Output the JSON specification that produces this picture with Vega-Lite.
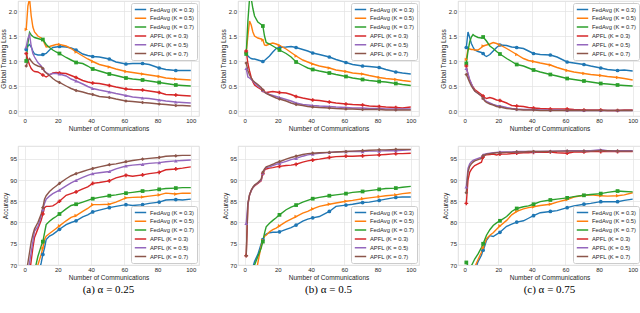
{
"$schema": "https://vega.github.io/schema/vega-lite/v6.json",
"padding": {"left": 0, "top": 0, "right": 0, "bottom": 0},
"config": {
 "font": "Liberation Sans",
 "view": {"stroke": "#d6d6d6", "strokeWidth": 0.8},
 "axis": {"labelFont": "Liberation Sans", "labelFontSize": 6, "labelColor": "#262626", "titleFont": "Liberation Sans", "titleFontSize": 6.5, "titleFontWeight": "normal", "titleColor": "#262626", "ticks": false, "domain": false, "gridColor": "#e3e3e3", "gridWidth": 0.7, "labelPadding": 1.5, "titlePadding": 1.5},
 "legend": {"fillColor": "white", "strokeColor": "#cccccc", "padding": 3, "labelFontSize": 5.8, "labelFont": "Liberation Sans", "labelColor": "#262626", "symbolType": "stroke", "symbolStrokeWidth": 1.5, "symbolSize": 130, "clipHeight": 7, "rowPadding": 1.8, "cornerRadius": 2, "offset": 2, "labelLimit": 200, "labelOffset": 3},
 "title": {"font": "Liberation Serif", "fontWeight": "normal", "color": "#000000"}
},
"title": {"text": "Figure 3. Evaluating the effect of sampling on APFL and FedAvg algorithm using the MNIST dataset that is", "orient": "bottom", "anchor": "middle", "fontSize": 12.5, "offset": 27},
"datasets": {
 "A": [
{"x":1,"a":1.23,"b":1.63,"c":1.0,"d":1.15,"e":1.28,"f":0.9},
{"x":2,"a":1.3,"b":2.1,"c":1.35,"d":1.02,"e":1.45,"f":1.0},
{"x":3,"a":1.33,"b":2.25,"c":1.57,"d":0.92,"e":1.53,"f":1.05},
{"x":4,"a":1.28,"b":1.9,"c":1.52,"d":0.85,"e":1.3,"f":1.0},
{"x":5,"a":1.2,"b":1.68,"c":1.49,"d":0.81,"e":1.15,"f":0.96},
{"x":6,"a":1.14,"b":1.58,"c":1.47,"d":0.79,"e":1.08,"f":0.93},
{"x":8,"a":1.12,"b":1.5,"c":1.45,"d":0.78,"e":0.97,"f":0.9},
{"x":10,"a":1.12,"b":1.46,"c":1.43,"d":0.74,"e":0.9,"f":0.88},
{"x":11,"a":1.13,"b":1.43,"c":1.43,"d":0.72,"e":0.85,"f":0.85},
{"x":12,"a":1.14,"b":1.35,"c":1.38,"d":0.7,"e":0.8,"f":0.79},
{"x":13,"a":1.15,"b":1.28,"c":1.33,"d":0.68,"e":0.77,"f":0.76},
{"x":15,"a":1.22,"b":1.29,"c":1.27,"d":0.72,"e":0.73,"f":0.71},
{"x":17,"a":1.27,"b":1.31,"c":1.22,"d":0.76,"e":0.75,"f":0.65},
{"x":19,"a":1.28,"b":1.33,"c":1.18,"d":0.77,"e":0.75,"f":0.6},
{"x":21,"a":1.29,"b":1.33,"c":1.15,"d":0.76,"e":0.74,"f":0.57},
{"x":25,"a":1.28,"b":1.3,"c":1.07,"d":0.75,"e":0.7,"f":0.5},
{"x":28,"a":1.26,"b":1.25,"c":1.02,"d":0.71,"e":0.64,"f":0.45},
{"x":31,"a":1.22,"b":1.18,"c":0.97,"d":0.67,"e":0.6,"f":0.41},
{"x":35,"a":1.14,"b":1.1,"c":0.95,"d":0.61,"e":0.54,"f":0.38},
{"x":38,"a":1.11,"b":1.04,"c":0.9,"d":0.58,"e":0.49,"f":0.35},
{"x":41,"a":1.09,"b":0.99,"c":0.84,"d":0.56,"e":0.45,"f":0.33},
{"x":45,"a":1.08,"b":0.93,"c":0.8,"d":0.55,"e":0.42,"f":0.29},
{"x":51,"a":1.04,"b":0.88,"c":0.74,"d":0.51,"e":0.38,"f":0.27},
{"x":55,"a":0.98,"b":0.84,"c":0.71,"d":0.48,"e":0.35,"f":0.24},
{"x":61,"a":0.94,"b":0.79,"c":0.66,"d":0.44,"e":0.31,"f":0.2},
{"x":65,"a":0.95,"b":0.77,"c":0.64,"d":0.43,"e":0.28,"f":0.19},
{"x":71,"a":0.95,"b":0.74,"c":0.62,"d":0.42,"e":0.26,"f":0.17},
{"x":75,"a":0.93,"b":0.72,"c":0.6,"d":0.4,"e":0.25,"f":0.16},
{"x":81,"a":0.86,"b":0.69,"c":0.57,"d":0.37,"e":0.22,"f":0.14},
{"x":85,"a":0.83,"b":0.66,"c":0.55,"d":0.33,"e":0.2,"f":0.13},
{"x":91,"a":0.81,"b":0.64,"c":0.52,"d":0.32,"e":0.18,"f":0.11},
{"x":95,"a":0.81,"b":0.63,"c":0.51,"d":0.31,"e":0.17,"f":0.11},
{"x":100,"a":0.81,"b":0.62,"c":0.5,"d":0.3,"e":0.16,"f":0.1}
 ],
 "B": [
{"x":1,"a":1.17,"b":1.17,"c":1.14,"d":1.2,"e":0.85,"f":0.96},
{"x":2,"a":1.1,"b":1.5,"c":1.8,"d":0.95,"e":0.68,"f":0.81},
{"x":3,"a":1.07,"b":1.8,"c":2.25,"d":0.8,"e":0.66,"f":0.72},
{"x":4,"a":1.05,"b":1.72,"c":2.25,"d":0.67,"e":0.63,"f":0.66},
{"x":5,"a":1.04,"b":1.58,"c":2.05,"d":0.58,"e":0.6,"f":0.61},
{"x":6,"a":1.04,"b":1.5,"c":1.9,"d":0.52,"e":0.56,"f":0.58},
{"x":8,"a":1.02,"b":1.46,"c":1.78,"d":0.47,"e":0.5,"f":0.53},
{"x":10,"a":1.0,"b":1.44,"c":1.73,"d":0.43,"e":0.45,"f":0.47},
{"x":11,"a":0.99,"b":1.42,"c":1.7,"d":0.41,"e":0.41,"f":0.42},
{"x":12,"a":1.01,"b":1.32,"c":1.5,"d":0.38,"e":0.37,"f":0.38},
{"x":13,"a":1.04,"b":1.31,"c":1.37,"d":0.37,"e":0.36,"f":0.35},
{"x":15,"a":1.1,"b":1.34,"c":1.34,"d":0.38,"e":0.33,"f":0.32},
{"x":17,"a":1.18,"b":1.36,"c":1.3,"d":0.39,"e":0.31,"f":0.29},
{"x":19,"a":1.25,"b":1.34,"c":1.26,"d":0.38,"e":0.29,"f":0.26},
{"x":21,"a":1.27,"b":1.31,"c":1.22,"d":0.37,"e":0.27,"f":0.24},
{"x":25,"a":1.28,"b":1.24,"c":1.15,"d":0.36,"e":0.23,"f":0.2},
{"x":28,"a":1.29,"b":1.17,"c":1.08,"d":0.33,"e":0.2,"f":0.16},
{"x":31,"a":1.27,"b":1.1,"c":0.98,"d":0.29,"e":0.16,"f":0.13},
{"x":35,"a":1.23,"b":1.02,"c":0.91,"d":0.26,"e":0.13,"f":0.11},
{"x":38,"a":1.2,"b":0.98,"c":0.86,"d":0.24,"e":0.12,"f":0.09},
{"x":41,"a":1.16,"b":0.94,"c":0.83,"d":0.22,"e":0.11,"f":0.08},
{"x":45,"a":1.13,"b":0.9,"c":0.8,"d":0.21,"e":0.1,"f":0.07},
{"x":51,"a":1.08,"b":0.86,"c":0.76,"d":0.18,"e":0.09,"f":0.06},
{"x":55,"a":1.03,"b":0.82,"c":0.73,"d":0.16,"e":0.08,"f":0.05},
{"x":61,"a":0.97,"b":0.79,"c":0.69,"d":0.14,"e":0.07,"f":0.04},
{"x":65,"a":0.93,"b":0.76,"c":0.66,"d":0.13,"e":0.06,"f":0.04},
{"x":71,"a":0.9,"b":0.74,"c":0.63,"d":0.12,"e":0.06,"f":0.03},
{"x":75,"a":0.89,"b":0.71,"c":0.61,"d":0.1,"e":0.05,"f":0.03},
{"x":81,"a":0.87,"b":0.67,"c":0.59,"d":0.09,"e":0.05,"f":0.03},
{"x":85,"a":0.83,"b":0.65,"c":0.58,"d":0.08,"e":0.04,"f":0.02},
{"x":91,"a":0.78,"b":0.63,"c":0.55,"d":0.07,"e":0.04,"f":0.02},
{"x":95,"a":0.76,"b":0.61,"c":0.53,"d":0.06,"e":0.04,"f":0.02},
{"x":100,"a":0.74,"b":0.59,"c":0.51,"d":0.08,"e":0.04,"f":0.02}
 ],
 "C": [
{"x":1,"a":1.27,"b":1.03,"c":0.95,"d":0.9,"e":0.85,"f":0.73},
{"x":2,"a":1.58,"b":1.25,"c":1.2,"d":0.72,"e":0.75,"f":0.65},
{"x":3,"a":1.47,"b":1.24,"c":1.38,"d":0.62,"e":0.63,"f":0.57},
{"x":4,"a":1.35,"b":1.23,"c":1.48,"d":0.54,"e":0.55,"f":0.5},
{"x":5,"a":1.28,"b":1.23,"c":1.53,"d":0.48,"e":0.47,"f":0.45},
{"x":6,"a":1.22,"b":1.22,"c":1.5,"d":0.43,"e":0.4,"f":0.4},
{"x":8,"a":1.19,"b":1.22,"c":1.47,"d":0.38,"e":0.35,"f":0.35},
{"x":10,"a":1.17,"b":1.27,"c":1.46,"d":0.33,"e":0.3,"f":0.3},
{"x":11,"a":1.15,"b":1.3,"c":1.48,"d":0.3,"e":0.26,"f":0.25},
{"x":12,"a":1.11,"b":1.31,"c":1.44,"d":0.27,"e":0.22,"f":0.2},
{"x":13,"a":1.09,"b":1.32,"c":1.4,"d":0.25,"e":0.19,"f":0.17},
{"x":15,"a":1.13,"b":1.34,"c":1.3,"d":0.27,"e":0.16,"f":0.14},
{"x":17,"a":1.2,"b":1.37,"c":1.25,"d":0.25,"e":0.13,"f":0.12},
{"x":19,"a":1.27,"b":1.35,"c":1.19,"d":0.22,"e":0.11,"f":0.09},
{"x":21,"a":1.32,"b":1.32,"c":1.14,"d":0.21,"e":0.1,"f":0.08},
{"x":25,"a":1.31,"b":1.25,"c":1.05,"d":0.16,"e":0.07,"f":0.05},
{"x":28,"a":1.28,"b":1.19,"c":0.99,"d":0.11,"e":0.05,"f":0.04},
{"x":31,"a":1.27,"b":1.13,"c":0.93,"d":0.1,"e":0.04,"f":0.03},
{"x":35,"a":1.25,"b":1.05,"c":0.9,"d":0.09,"e":0.03,"f":0.02},
{"x":38,"a":1.2,"b":1.01,"c":0.86,"d":0.07,"e":0.03,"f":0.02},
{"x":41,"a":1.15,"b":0.99,"c":0.82,"d":0.06,"e":0.03,"f":0.02},
{"x":45,"a":1.13,"b":0.96,"c":0.78,"d":0.05,"e":0.02,"f":0.01},
{"x":51,"a":1.12,"b":0.92,"c":0.73,"d":0.04,"e":0.02,"f":0.01},
{"x":55,"a":1.08,"b":0.87,"c":0.7,"d":0.04,"e":0.02,"f":0.01},
{"x":61,"a":0.98,"b":0.81,"c":0.65,"d":0.04,"e":0.01,"f":0.01},
{"x":65,"a":0.96,"b":0.78,"c":0.63,"d":0.03,"e":0.01,"f":0.01},
{"x":71,"a":0.93,"b":0.75,"c":0.6,"d":0.02,"e":0.01,"f":0.01},
{"x":75,"a":0.9,"b":0.73,"c":0.58,"d":0.02,"e":0.01,"f":0.01},
{"x":81,"a":0.86,"b":0.71,"c":0.55,"d":0.02,"e":0.01,"f":0.01},
{"x":85,"a":0.83,"b":0.69,"c":0.54,"d":0.01,"e":0.01,"f":0.01},
{"x":91,"a":0.81,"b":0.67,"c":0.52,"d":0.01,"e":0.01,"f":0.01},
{"x":95,"a":0.82,"b":0.65,"c":0.51,"d":0.02,"e":0.01,"f":0.01},
{"x":100,"a":0.8,"b":0.62,"c":0.5,"d":0.02,"e":0.01,"f":0.01}
 ],
 "D": [
{"x":1,"a":56,"b":60,"c":60,"d":63,"e":65.5,"f":68.3},
{"x":2,"a":57.5,"b":61.5,"c":62,"d":65.5,"e":68,"f":70.5},
{"x":3,"a":59,"b":63,"c":64,"d":68,"e":70.5,"f":73},
{"x":4,"a":61,"b":64.5,"c":65.5,"d":71,"e":73,"f":75.5},
{"x":5,"a":63,"b":66,"c":67,"d":74,"e":75.5,"f":77.2},
{"x":6,"a":64.5,"b":67.5,"c":68.5,"d":76.5,"e":78,"f":78.5},
{"x":8,"a":67,"b":70,"c":72,"d":78.5,"e":79,"f":80},
{"x":10,"a":70.5,"b":72.5,"c":74.5,"d":80.5,"e":81.5,"f":82},
{"x":11,"a":72.5,"b":74,"c":75.5,"d":82,"e":83,"f":83.5},
{"x":12,"a":74,"b":76,"c":77.5,"d":83.5,"e":84.5,"f":85.5},
{"x":13,"a":76,"b":76.8,"c":79.5,"d":83.8,"e":85.5,"f":86.3},
{"x":15,"a":76.8,"b":77.4,"c":80.3,"d":83.8,"e":86.2,"f":87.3},
{"x":17,"a":77.2,"b":78,"c":80.9,"d":83.9,"e":86.8,"f":88},
{"x":19,"a":77.8,"b":78.6,"c":81.4,"d":84.4,"e":87.2,"f":88.6},
{"x":21,"a":78.4,"b":79.2,"c":82,"d":85,"e":87.6,"f":89.2},
{"x":25,"a":79.5,"b":80.4,"c":83.2,"d":86.4,"e":88.6,"f":90.3},
{"x":28,"a":80,"b":81.2,"c":84,"d":86.8,"e":89.3,"f":91},
{"x":31,"a":80.4,"b":81.6,"c":84.3,"d":87.2,"e":89.9,"f":91.5},
{"x":35,"a":81.3,"b":82.6,"c":84.8,"d":87.9,"e":90.6,"f":92},
{"x":38,"a":81.8,"b":83.3,"c":85.2,"d":88.4,"e":91.1,"f":92.4},
{"x":41,"a":82.5,"b":84.2,"c":85.6,"d":89.2,"e":91.5,"f":92.7},
{"x":45,"a":82.9,"b":84.2,"c":85.9,"d":89.4,"e":91.7,"f":93.1},
{"x":51,"a":83.5,"b":84.3,"c":86.3,"d":89.8,"e":92,"f":93.6},
{"x":55,"a":83.8,"b":84.8,"c":86.5,"d":90.5,"e":92.6,"f":93.8},
{"x":61,"a":84.2,"b":85.8,"c":86.9,"d":91.1,"e":93.3,"f":94.3},
{"x":65,"a":84.0,"b":85.9,"c":87.1,"d":90.9,"e":93.5,"f":94.6},
{"x":71,"a":84.2,"b":86.0,"c":87.4,"d":91.2,"e":93.7,"f":94.9},
{"x":75,"a":84.5,"b":86.2,"c":87.5,"d":91.5,"e":93.9,"f":95.1},
{"x":81,"a":84.8,"b":86.5,"c":87.8,"d":91.8,"e":94.1,"f":95.3},
{"x":85,"a":85.3,"b":86.9,"c":88,"d":92.4,"e":94.3,"f":95.6},
{"x":91,"a":85.4,"b":86.7,"c":88.1,"d":92.6,"e":94.5,"f":95.7},
{"x":95,"a":85.3,"b":86.9,"c":88.2,"d":92.8,"e":94.6,"f":95.8},
{"x":100,"a":85.5,"b":86.9,"c":88.2,"d":93.1,"e":94.7,"f":95.8}
 ],
 "E": [
{"x":1,"a":64,"b":56,"c":63.5,"d":72.2,"e":79.8,"f":72.2},
{"x":2,"a":65.5,"b":58,"c":64.5,"d":84,"e":84.5,"f":84.5},
{"x":3,"a":67,"b":60,"c":65.5,"d":86.5,"e":86.5,"f":86.5},
{"x":4,"a":68.5,"b":62,"c":67,"d":87.5,"e":87.5,"f":87.6},
{"x":5,"a":69.5,"b":64,"c":68.5,"d":88.2,"e":88.2,"f":88.3},
{"x":6,"a":70.8,"b":66,"c":70,"d":88.6,"e":88.7,"f":88.8},
{"x":8,"a":72.5,"b":70.5,"c":72,"d":89.2,"e":89.3,"f":89.4},
{"x":10,"a":75,"b":74.5,"c":74,"d":89.8,"e":90,"f":90.2},
{"x":11,"a":76,"b":75.8,"c":75.5,"d":91.5,"e":91.6,"f":91.8},
{"x":12,"a":76.8,"b":76.8,"c":77.5,"d":92.3,"e":92.5,"f":92.6},
{"x":13,"a":77.3,"b":77,"c":79,"d":92.6,"e":92.9,"f":93.1},
{"x":15,"a":77.6,"b":77.8,"c":79.8,"d":92.8,"e":93.1,"f":93.4},
{"x":17,"a":77.7,"b":78.3,"c":80.5,"d":92.9,"e":93.4,"f":93.7},
{"x":19,"a":77.7,"b":78.7,"c":81.1,"d":93.1,"e":93.7,"f":94.1},
{"x":21,"a":77.8,"b":79.2,"c":81.8,"d":93.2,"e":93.9,"f":94.3},
{"x":25,"a":78.4,"b":80.2,"c":83,"d":93.4,"e":94.4,"f":94.9},
{"x":28,"a":78.8,"b":80.8,"c":83.6,"d":93.5,"e":94.8,"f":95.3},
{"x":31,"a":79.4,"b":81.4,"c":84.1,"d":93.7,"e":95.1,"f":95.6},
{"x":35,"a":80.3,"b":82.2,"c":84.8,"d":94.2,"e":95.6,"f":96},
{"x":38,"a":80.8,"b":82.6,"c":85.2,"d":94.5,"e":95.9,"f":96.2},
{"x":41,"a":81.1,"b":83.2,"c":85.6,"d":94.7,"e":96.1,"f":96.3},
{"x":45,"a":81.4,"b":83.8,"c":85.9,"d":94.9,"e":96.3,"f":96.4},
{"x":51,"a":82.6,"b":84.3,"c":86.3,"d":95.3,"e":96.5,"f":96.5},
{"x":55,"a":83.8,"b":84.6,"c":86.5,"d":95.5,"e":96.6,"f":96.6},
{"x":61,"a":84.1,"b":85,"c":86.8,"d":95.6,"e":96.7,"f":96.7},
{"x":65,"a":84.3,"b":85.2,"c":87.1,"d":95.6,"e":96.7,"f":96.8},
{"x":71,"a":84.7,"b":85.6,"c":87.3,"d":95.7,"e":96.7,"f":96.9},
{"x":75,"a":84.8,"b":85.8,"c":87.5,"d":95.8,"e":96.8,"f":97},
{"x":81,"a":85.2,"b":86.1,"c":87.8,"d":95.9,"e":96.8,"f":97.1},
{"x":85,"a":85.5,"b":86.3,"c":88,"d":96,"e":96.9,"f":97.1},
{"x":91,"a":85.9,"b":86.5,"c":88.1,"d":96.2,"e":96.9,"f":97.2},
{"x":95,"a":86.0,"b":86.8,"c":88.3,"d":96.2,"e":97.0,"f":97.2},
{"x":100,"a":86.0,"b":87.0,"c":88.5,"d":96.3,"e":97.1,"f":97.2}
 ],
 "F": [
{"x":1,"a":63,"b":62,"c":70.6,"d":84.5,"e":88.4,"f":87},
{"x":2,"a":64,"b":63.5,"c":69.8,"d":90,"e":92.7,"f":91.9},
{"x":3,"a":65.5,"b":65,"c":69.4,"d":91.8,"e":93.8,"f":93.2},
{"x":4,"a":66.5,"b":66.5,"c":69.8,"d":92.5,"e":94.3,"f":93.8},
{"x":5,"a":67.5,"b":68,"c":70.6,"d":93,"e":94.6,"f":94.2},
{"x":6,"a":68.5,"b":69.5,"c":71.4,"d":93.4,"e":94.8,"f":94.5},
{"x":8,"a":70.8,"b":71.3,"c":72.6,"d":93.8,"e":95.1,"f":94.8},
{"x":10,"a":72.3,"b":73,"c":74.1,"d":94.2,"e":95.4,"f":95.1},
{"x":11,"a":73.5,"b":74,"c":75,"d":95.4,"e":95.9,"f":95.7},
{"x":12,"a":74.5,"b":75.2,"c":76,"d":95.8,"e":96.1,"f":95.9},
{"x":13,"a":75.8,"b":76.2,"c":77,"d":95.9,"e":96.2,"f":96.1},
{"x":15,"a":76.9,"b":77,"c":78.3,"d":96,"e":96.3,"f":96.2},
{"x":17,"a":76.7,"b":77.6,"c":79.3,"d":96.1,"e":96.4,"f":96.3},
{"x":19,"a":77.2,"b":78.4,"c":79.9,"d":95.9,"e":96.5,"f":96.4},
{"x":21,"a":77.7,"b":79.2,"c":80.4,"d":96.1,"e":96.6,"f":96.4},
{"x":25,"a":79.1,"b":80.5,"c":81.4,"d":96.1,"e":96.6,"f":96.5},
{"x":28,"a":79.6,"b":81.8,"c":82.6,"d":96.2,"e":96.6,"f":96.5},
{"x":31,"a":80.1,"b":82.6,"c":83.3,"d":96.3,"e":96.7,"f":96.6},
{"x":35,"a":80.4,"b":83.2,"c":83.7,"d":96.4,"e":96.7,"f":96.6},
{"x":38,"a":81,"b":83.5,"c":83.9,"d":96.4,"e":96.7,"f":96.7},
{"x":41,"a":81.6,"b":83.7,"c":84.3,"d":96.5,"e":96.7,"f":96.7},
{"x":45,"a":82.3,"b":84,"c":84.9,"d":96.5,"e":96.7,"f":96.7},
{"x":51,"a":82.6,"b":84.3,"c":85.3,"d":96.6,"e":96.8,"f":96.7},
{"x":55,"a":82.8,"b":84.8,"c":85.5,"d":96.4,"e":96.8,"f":96.8},
{"x":61,"a":83.5,"b":85.4,"c":85.8,"d":96.3,"e":96.9,"f":96.8},
{"x":65,"a":83.9,"b":86,"c":86.1,"d":96.6,"e":96.9,"f":96.8},
{"x":71,"a":84.3,"b":86.4,"c":86.4,"d":96.6,"e":96.9,"f":96.8},
{"x":75,"a":84.5,"b":86.5,"c":86.6,"d":96.7,"e":96.9,"f":96.8},
{"x":81,"a":84.9,"b":86.3,"c":86.8,"d":96.7,"e":97.1,"f":96.9},
{"x":85,"a":84.9,"b":86.2,"c":87.1,"d":96.7,"e":96.9,"f":96.9},
{"x":91,"a":84.9,"b":86.3,"c":87.4,"d":96.7,"e":96.9,"f":96.8},
{"x":95,"a":85.2,"b":86.5,"c":87.3,"d":96.7,"e":96.9,"f":96.8},
{"x":100,"a":85.5,"b":87,"c":87.2,"d":96.7,"e":96.9,"f":96.8}
 ]
},
"columns": 3,
"bounds": "flush",
"spacing": {"row": 30, "column": 39},
"resolve": {"scale": {"color": "independent"}, "legend": {"color": "independent"}},
"concat": [
  {"width": 181, "height": 115, "data": {"name": "A"},
   "encoding": {
    "x": {"field": "x", "type": "quantitative", "scale": {"domain": [-3.95, 104.95], "nice": false, "zero": false}, "axis": {"values": [0,20,40,60,80,100], "title": "Number of Communications"}},
    "y": {"field": "v", "type": "quantitative", "scale": {"domain": [-0.1, 2.2], "nice": false}, "axis": {"values": [0,0.5,1,1.5,2], "format": ".1f", "title": "Global Training Loss"}}
   },
   "layer": [
    {"transform": [{"fold": ["a","b","c","d","e","f"], "as": ["s","v"]}],
     "mark": {"type": "line", "clip": true, "strokeWidth": 1.4},
     "encoding": {"color": {"field": "s", "type": "nominal", "scale": {"domain": ["a","b","c","d","e","f"], "range": ["#1f77b4","#ff7f0e","#2ca02c","#d62728","#9467bd","#8c564b"]}, "legend": {"orient": "top-right", "title": null, "labelExpr": "datum.label=='a'?'FedAvg (K = 0.3)':datum.label=='b'?'FedAvg (K = 0.5)':datum.label=='c'?'FedAvg (K = 0.7)':datum.label=='d'?'APFL (K = 0.3)':datum.label=='e'?'APFL (K = 0.5)':'APFL (K = 0.7)'"}}}},
    {"transform": [{"fold": ["a","b","c","d","e","f"], "as": ["t","v"]}, {"filter": "datum.x % 10 == 1"}],
     "mark": {"type": "point", "filled": true, "size": 14, "opacity": 1, "clip": true, "strokeWidth": 0},
     "encoding": {"fill": {"condition": [{"test": "datum.t=='a'", "value": "#1f77b4"}, {"test": "datum.t=='b'", "value": "#ff7f0e"}, {"test": "datum.t=='c'", "value": "#2ca02c"}, {"test": "datum.t=='d'", "value": "#d62728"}, {"test": "datum.t=='e'", "value": "#9467bd"}], "value": "#8c564b"},
      "shape": {"condition": [{"test": "datum.t=='a'", "value": "circle"}, {"test": "datum.t=='b'", "value": "triangle-right"}, {"test": "datum.t=='c'", "value": "square"}, {"test": "datum.t=='d'", "value": "cross"}, {"test": "datum.t=='e'", "value": "triangle-up"}], "value": "diamond"}}}
   ]},
  {"width": 181, "height": 115, "data": {"name": "B"},
   "encoding": {
    "x": {"field": "x", "type": "quantitative", "scale": {"domain": [-3.95, 104.95], "nice": false, "zero": false}, "axis": {"values": [0,20,40,60,80,100], "title": "Number of Communications"}},
    "y": {"field": "v", "type": "quantitative", "scale": {"domain": [-0.1, 2.2], "nice": false}, "axis": {"values": [0,0.5,1,1.5,2], "format": ".1f", "title": "Global Training Loss"}}
   },
   "layer": [
    {"transform": [{"fold": ["a","b","c","d","e","f"], "as": ["s","v"]}],
     "mark": {"type": "line", "clip": true, "strokeWidth": 1.4},
     "encoding": {"color": {"field": "s", "type": "nominal", "scale": {"domain": ["a","b","c","d","e","f"], "range": ["#1f77b4","#ff7f0e","#2ca02c","#d62728","#9467bd","#8c564b"]}, "legend": {"orient": "top-right", "title": null, "labelExpr": "datum.label=='a'?'FedAvg (K = 0.3)':datum.label=='b'?'FedAvg (K = 0.5)':datum.label=='c'?'FedAvg (K = 0.7)':datum.label=='d'?'APFL (K = 0.3)':datum.label=='e'?'APFL (K = 0.5)':'APFL (K = 0.7)'"}}}},
    {"transform": [{"fold": ["a","b","c","d","e","f"], "as": ["t","v"]}, {"filter": "datum.x % 10 == 1"}],
     "mark": {"type": "point", "filled": true, "size": 14, "opacity": 1, "clip": true, "strokeWidth": 0},
     "encoding": {"fill": {"condition": [{"test": "datum.t=='a'", "value": "#1f77b4"}, {"test": "datum.t=='b'", "value": "#ff7f0e"}, {"test": "datum.t=='c'", "value": "#2ca02c"}, {"test": "datum.t=='d'", "value": "#d62728"}, {"test": "datum.t=='e'", "value": "#9467bd"}], "value": "#8c564b"},
      "shape": {"condition": [{"test": "datum.t=='a'", "value": "circle"}, {"test": "datum.t=='b'", "value": "triangle-right"}, {"test": "datum.t=='c'", "value": "square"}, {"test": "datum.t=='d'", "value": "cross"}, {"test": "datum.t=='e'", "value": "triangle-up"}], "value": "diamond"}}}
   ]},
  {"width": 183, "height": 115, "data": {"name": "C"},
   "encoding": {
    "x": {"field": "x", "type": "quantitative", "scale": {"domain": [-3.95, 104.95], "nice": false, "zero": false}, "axis": {"values": [0,20,40,60,80,100], "title": "Number of Communications"}},
    "y": {"field": "v", "type": "quantitative", "scale": {"domain": [-0.1, 2.2], "nice": false}, "axis": {"values": [0,0.5,1,1.5,2], "format": ".1f", "title": "Global Training Loss"}}
   },
   "layer": [
    {"transform": [{"fold": ["a","b","c","d","e","f"], "as": ["s","v"]}],
     "mark": {"type": "line", "clip": true, "strokeWidth": 1.4},
     "encoding": {"color": {"field": "s", "type": "nominal", "scale": {"domain": ["a","b","c","d","e","f"], "range": ["#1f77b4","#ff7f0e","#2ca02c","#d62728","#9467bd","#8c564b"]}, "legend": {"orient": "top-right", "title": null, "labelExpr": "datum.label=='a'?'FedAvg (K = 0.3)':datum.label=='b'?'FedAvg (K = 0.5)':datum.label=='c'?'FedAvg (K = 0.7)':datum.label=='d'?'APFL (K = 0.3)':datum.label=='e'?'APFL (K = 0.5)':'APFL (K = 0.7)'"}}}},
    {"transform": [{"fold": ["a","b","c","d","e","f"], "as": ["t","v"]}, {"filter": "datum.x % 10 == 1"}],
     "mark": {"type": "point", "filled": true, "size": 14, "opacity": 1, "clip": true, "strokeWidth": 0},
     "encoding": {"fill": {"condition": [{"test": "datum.t=='a'", "value": "#1f77b4"}, {"test": "datum.t=='b'", "value": "#ff7f0e"}, {"test": "datum.t=='c'", "value": "#2ca02c"}, {"test": "datum.t=='d'", "value": "#d62728"}, {"test": "datum.t=='e'", "value": "#9467bd"}], "value": "#8c564b"},
      "shape": {"condition": [{"test": "datum.t=='a'", "value": "circle"}, {"test": "datum.t=='b'", "value": "triangle-right"}, {"test": "datum.t=='c'", "value": "square"}, {"test": "datum.t=='d'", "value": "cross"}, {"test": "datum.t=='e'", "value": "triangle-up"}], "value": "diamond"}}}
   ]},
  {"width": 181, "height": 119, "data": {"name": "D"},
   "title": {"text": "(a) α = 0.25", "orient": "bottom", "fontSize": 11, "offset": 3},
   "encoding": {
    "x": {"field": "x", "type": "quantitative", "scale": {"domain": [-3.95, 104.95], "nice": false, "zero": false}, "axis": {"values": [0,20,40,60,80,100], "title": "Number of Communications"}},
    "y": {"field": "v", "type": "quantitative", "scale": {"domain": [70, 98], "nice": false, "zero": false}, "axis": {"values": [70,75,80,85,90,95], "title": "Accuracy"}}
   },
   "layer": [
    {"transform": [{"fold": ["a","b","c","d","e","f"], "as": ["s","v"]}],
     "mark": {"type": "line", "clip": true, "strokeWidth": 1.4},
     "encoding": {"color": {"field": "s", "type": "nominal", "scale": {"domain": ["a","b","c","d","e","f"], "range": ["#1f77b4","#ff7f0e","#2ca02c","#d62728","#9467bd","#8c564b"]}, "legend": {"orient": "bottom-right", "title": null, "labelExpr": "datum.label=='a'?'FedAvg (K = 0.3)':datum.label=='b'?'FedAvg (K = 0.5)':datum.label=='c'?'FedAvg (K = 0.7)':datum.label=='d'?'APFL (K = 0.3)':datum.label=='e'?'APFL (K = 0.5)':'APFL (K = 0.7)'"}}}},
    {"transform": [{"fold": ["a","b","c","d","e","f"], "as": ["t","v"]}, {"filter": "datum.x % 10 == 1"}],
     "mark": {"type": "point", "filled": true, "size": 14, "opacity": 1, "clip": true, "strokeWidth": 0},
     "encoding": {"fill": {"condition": [{"test": "datum.t=='a'", "value": "#1f77b4"}, {"test": "datum.t=='b'", "value": "#ff7f0e"}, {"test": "datum.t=='c'", "value": "#2ca02c"}, {"test": "datum.t=='d'", "value": "#d62728"}, {"test": "datum.t=='e'", "value": "#9467bd"}], "value": "#8c564b"},
      "shape": {"condition": [{"test": "datum.t=='a'", "value": "circle"}, {"test": "datum.t=='b'", "value": "triangle-right"}, {"test": "datum.t=='c'", "value": "square"}, {"test": "datum.t=='d'", "value": "cross"}, {"test": "datum.t=='e'", "value": "triangle-up"}], "value": "diamond"}}}
   ]},
  {"width": 181, "height": 119, "data": {"name": "E"},
   "title": {"text": "(b) α = 0.5", "orient": "bottom", "fontSize": 11, "offset": 3},
   "encoding": {
    "x": {"field": "x", "type": "quantitative", "scale": {"domain": [-3.95, 104.95], "nice": false, "zero": false}, "axis": {"values": [0,20,40,60,80,100], "title": "Number of Communications"}},
    "y": {"field": "v", "type": "quantitative", "scale": {"domain": [70, 98], "nice": false, "zero": false}, "axis": {"values": [70,75,80,85,90,95], "title": "Accuracy"}}
   },
   "layer": [
    {"transform": [{"fold": ["a","b","c","d","e","f"], "as": ["s","v"]}],
     "mark": {"type": "line", "clip": true, "strokeWidth": 1.4},
     "encoding": {"color": {"field": "s", "type": "nominal", "scale": {"domain": ["a","b","c","d","e","f"], "range": ["#1f77b4","#ff7f0e","#2ca02c","#d62728","#9467bd","#8c564b"]}, "legend": {"orient": "bottom-right", "title": null, "labelExpr": "datum.label=='a'?'FedAvg (K = 0.3)':datum.label=='b'?'FedAvg (K = 0.5)':datum.label=='c'?'FedAvg (K = 0.7)':datum.label=='d'?'APFL (K = 0.3)':datum.label=='e'?'APFL (K = 0.5)':'APFL (K = 0.7)'"}}}},
    {"transform": [{"fold": ["a","b","c","d","e","f"], "as": ["t","v"]}, {"filter": "datum.x % 10 == 1"}],
     "mark": {"type": "point", "filled": true, "size": 14, "opacity": 1, "clip": true, "strokeWidth": 0},
     "encoding": {"fill": {"condition": [{"test": "datum.t=='a'", "value": "#1f77b4"}, {"test": "datum.t=='b'", "value": "#ff7f0e"}, {"test": "datum.t=='c'", "value": "#2ca02c"}, {"test": "datum.t=='d'", "value": "#d62728"}, {"test": "datum.t=='e'", "value": "#9467bd"}], "value": "#8c564b"},
      "shape": {"condition": [{"test": "datum.t=='a'", "value": "circle"}, {"test": "datum.t=='b'", "value": "triangle-right"}, {"test": "datum.t=='c'", "value": "square"}, {"test": "datum.t=='d'", "value": "cross"}, {"test": "datum.t=='e'", "value": "triangle-up"}], "value": "diamond"}}}
   ]},
  {"width": 183, "height": 119, "data": {"name": "F"},
   "title": {"text": "(c) α = 0.75", "orient": "bottom", "fontSize": 11, "offset": 3},
   "encoding": {
    "x": {"field": "x", "type": "quantitative", "scale": {"domain": [-3.95, 104.95], "nice": false, "zero": false}, "axis": {"values": [0,20,40,60,80,100], "title": "Number of Communications"}},
    "y": {"field": "v", "type": "quantitative", "scale": {"domain": [70, 98], "nice": false, "zero": false}, "axis": {"values": [70,75,80,85,90,95], "title": "Accuracy"}}
   },
   "layer": [
    {"transform": [{"fold": ["a","b","c","d","e","f"], "as": ["s","v"]}],
     "mark": {"type": "line", "clip": true, "strokeWidth": 1.4},
     "encoding": {"color": {"field": "s", "type": "nominal", "scale": {"domain": ["a","b","c","d","e","f"], "range": ["#1f77b4","#ff7f0e","#2ca02c","#d62728","#9467bd","#8c564b"]}, "legend": {"orient": "bottom-right", "title": null, "labelExpr": "datum.label=='a'?'FedAvg (K = 0.3)':datum.label=='b'?'FedAvg (K = 0.5)':datum.label=='c'?'FedAvg (K = 0.7)':datum.label=='d'?'APFL (K = 0.3)':datum.label=='e'?'APFL (K = 0.5)':'APFL (K = 0.7)'"}}}},
    {"transform": [{"fold": ["a","b","c","d","e","f"], "as": ["t","v"]}, {"filter": "datum.x % 10 == 1"}],
     "mark": {"type": "point", "filled": true, "size": 14, "opacity": 1, "clip": true, "strokeWidth": 0},
     "encoding": {"fill": {"condition": [{"test": "datum.t=='a'", "value": "#1f77b4"}, {"test": "datum.t=='b'", "value": "#ff7f0e"}, {"test": "datum.t=='c'", "value": "#2ca02c"}, {"test": "datum.t=='d'", "value": "#d62728"}, {"test": "datum.t=='e'", "value": "#9467bd"}], "value": "#8c564b"},
      "shape": {"condition": [{"test": "datum.t=='a'", "value": "circle"}, {"test": "datum.t=='b'", "value": "triangle-right"}, {"test": "datum.t=='c'", "value": "square"}, {"test": "datum.t=='d'", "value": "cross"}, {"test": "datum.t=='e'", "value": "triangle-up"}], "value": "diamond"}}}
   ]}
]
}
